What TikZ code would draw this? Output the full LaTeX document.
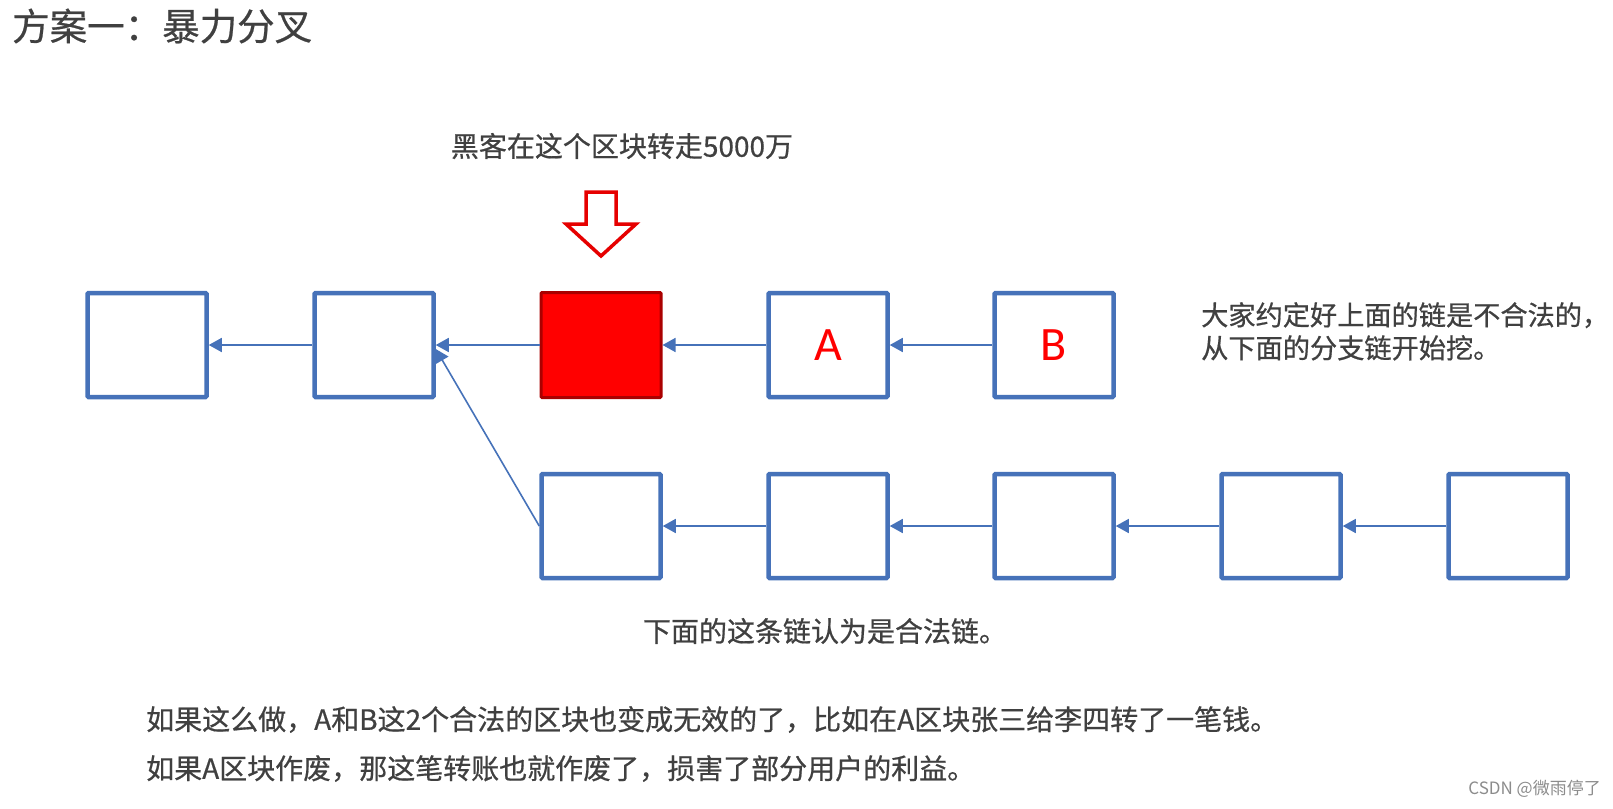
\documentclass[tikz,border=0pt]{standalone}
\usepackage{fontspec}
\setmainfont{Noto Sans CJK SC}[RawFeature={embolden=0.6}]
\newfontfamily\plainfont{Noto Sans CJK SC}
\newfontfamily\letterfont{Carlito}
\usetikzlibrary{arrows.meta,calc}
\definecolor{blk}{RGB}{70,114,185}
\definecolor{txt}{RGB}{64,64,64}
\definecolor{redfill}{RGB}{255,0,0}
\definecolor{redline}{RGB}{170,0,0}
\definecolor{arrred}{RGB}{230,0,0}
\begin{document}
\begin{tikzpicture}[x=1pt,y=-1pt,
  block/.style={draw=blk,line width=4.5pt,minimum width=119pt,minimum height=104pt,inner sep=0pt,fill=white,rounded corners=1pt},
  hack/.style={block,draw=redline,line width=3pt,fill=redfill,minimum width=120pt,minimum height=105pt},
  link/.style={draw=blk,line width=1.6pt,-{Triangle[length=13pt,width=14pt]}},
  letter/.style={text=red,font=\letterfont\fontsize{48}{48}\selectfont},
  label/.style={text=txt,inner sep=0pt,font=\fontsize{28}{33}\selectfont}]
\useasboundingbox[fill=white] (0,0) rectangle (1613,808);
% title
\node[anchor=west,text=txt,inner sep=0pt,font=\fontsize{37.5}{37.5}\selectfont] (title) at (12,26) {方案一：暴力分叉};
% top chain
\node[block] (t1) at (147,345) {};
\node[block] (t2) at (374,345) {};
\node[hack]  (t3) at (601,345) {};
\node[block,letter] (t4) at (828,345) {A};
\node[block,letter] (t5) at (1054,345) {B};
% bottom chain
\node[block] (b1) at (601,526) {};
\node[block] (b2) at (828,526) {};
\node[block] (b3) at (1054,526) {};
\node[block] (b4) at (1281,526) {};
\node[block] (b5) at (1508,526) {};
% links
\draw[link] (t2.west) -- (t1.east);
\draw[link] (t3.west) -- (t2.east);
\draw[link] (t5.west) -- (t4.east);
\draw[link] (t4.west) -- (t3.east);
\draw[link] (b1.west) -- ([yshift=-4pt]t2.east);
\draw[link] (b2.west) -- (b1.east);
\draw[link] (b3.west) -- (b2.east);
\draw[link] (b4.west) -- (b3.east);
\draw[link] (b5.west) -- (b4.east);
% down arrow
\draw[draw=arrred,line width=3.5pt,fill=white,line join=miter]
  (586,192) -- (616,192) -- (616,224) -- (636,224) -- (601,256) -- (566,224) -- (586,224) -- cycle;
% texts
\node[label] (hacklbl) at (622,146) {黑客在这个区块转走5000万};
\node[label,anchor=north west,align=left,font=\fontsize{27.2}{33}\selectfont] (note) at (1201,302) {大家约定好上面的链是不合法的，\\从下面的分支链开始挖。};
\node[label] (legal) at (825,631) {下面的这条链认为是合法链。};
\node[label,anchor=west,align=left,font=\fontsize{28}{49}\selectfont] (para) at (146,744) {如果这么做，A和B这2个合法的区块也变成无效的了，比如在A区块张三给李四转了一笔钱。\\如果A区块作废，那这笔转账也就作废了，损害了部分用户的利益。};
\node[anchor=east,inner sep=0pt,text=black!45,font=\plainfont\fontsize{17}{17}\selectfont] (mark) at (1601,789) {CSDN @微雨停了};
\end{tikzpicture}
\end{document}
